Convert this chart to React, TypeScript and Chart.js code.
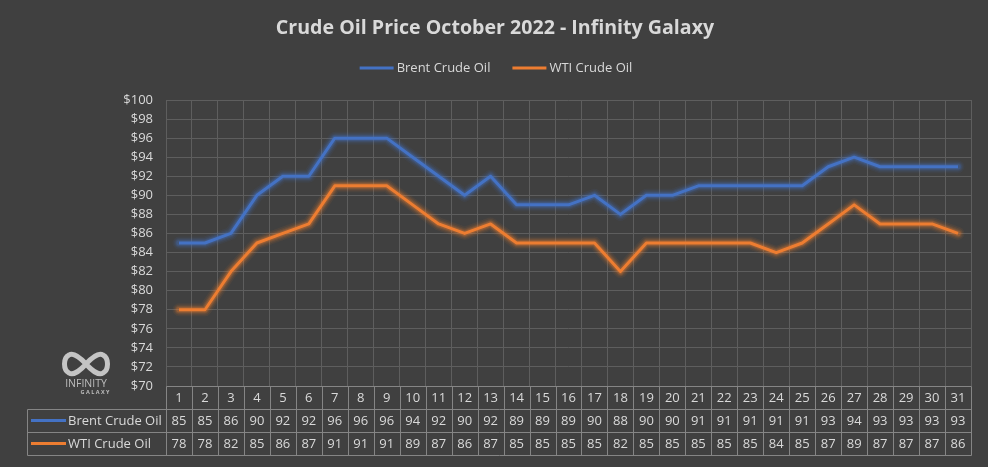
import React, { useEffect, useRef } from "react";
import { Chart, registerables } from "chart.js";

Chart.register(...registerables);

const chartTitle = "Crude Oil Price October 2022 - Infinity Galaxy";
const days = ["1","2","3","4","5","6","7","8","9","10","11","12","13","14","15","16","17","18","19","20","21","22","23","24","25","26","27","28","29","30","31"];
const brentLabel = "Brent Crude Oil";
const wtiLabel = "WTI Crude Oil";
const brent = [85,85,86,90,92,92,96,96,96,94,92,90,92,89,89,89,90,88,90,90,91,91,91,91,91,93,94,93,93,93,93];
const wti = [78,78,82,85,86,87,91,91,91,89,87,86,87,85,85,85,85,82,85,85,85,85,85,84,85,87,89,87,87,87,86];
const yMin = 70;
const yMax = 100;
const yStep = 2;

const BG = "#404040";
const TEXT = "#d9d9d9";
const GRID = "#5e5e5e";
const TABLE_LINE = "#858585";
const BLUE = "#4472C4";
const ORANGE = "#ED7D31";
const GLOW_RGB = ["68,114,196", "237,125,49"];
const FONT = "'Open Sans', 'Noto Sans', sans-serif";

const bgPlugin = {
  id: "bg",
  beforeDraw(chart: any) {
    const { ctx, width, height } = chart;
    ctx.save();
    ctx.fillStyle = BG;
    ctx.fillRect(0, 0, width, height);
    ctx.restore();
  },
};

const glowPlugin = {
  id: "glow",
  beforeDatasetDraw(chart: any, args: any) {
    const ctx = chart.ctx;
    const pts = chart.getDatasetMeta(args.index).data;
    const rgb = GLOW_RGB[args.index];
    const layers = [
      [13, 0.07],
      [10, 0.1],
      [7.5, 0.16],
      [5.5, 0.25],
    ];
    ctx.save();
    ctx.lineJoin = "round";
    ctx.lineCap = "round";
    layers.forEach(([w, a]) => {
      ctx.strokeStyle = `rgba(${rgb},${a})`;
      ctx.lineWidth = w;
      ctx.beginPath();
      pts.forEach((p: any, i: number) => {
        if (i === 0) ctx.moveTo(p.x, p.y);
        else ctx.lineTo(p.x, p.y);
      });
      ctx.stroke();
    });
    ctx.restore();
  },
};

const decorPlugin = {
  id: "decor",
  afterDraw(chart: any) {
    const { ctx, width } = chart;
    const xs = chart.scales.x;
    const area = chart.chartArea;
    ctx.save();
    // Title
    ctx.fillStyle = TEXT;
    ctx.font = `bold 19.6px ${FONT}`;
    ctx.textAlign = "center";
    ctx.textBaseline = "middle";
    ctx.fillText(chartTitle, width / 2 + 1, 28);

    // Legend
    ctx.font = `13px ${FONT}`;
    ctx.textAlign = "left";
    const items = [
      { label: brentLabel, color: BLUE },
      { label: wtiLabel, color: ORANGE },
    ];
    const keyW = 34;
    const gap = 3;
    const itemGap = 22;
    const widths = items.map((it) => keyW + gap + ctx.measureText(it.label).width);
    const total = widths.reduce((a, b) => a + b, 0) + itemGap;
    let lx = width / 2 - total / 2 + 2;
    const ly = 68;
    items.forEach((it, i) => {
      ctx.strokeStyle = it.color;
      ctx.lineWidth = 3;
      ctx.beginPath();
      ctx.moveTo(lx, ly);
      ctx.lineTo(lx + keyW, ly);
      ctx.stroke();
      ctx.fillStyle = TEXT;
      ctx.fillText(it.label, lx + keyW + gap, ly);
      lx += widths[i] + itemGap;
    });

    // Data table
    const n = days.length;
    const cw = (area.right - area.left) / n;
    const rowH = 23;
    const top = area.bottom;
    const tableLeft = 27;
    ctx.strokeStyle = TABLE_LINE;
    ctx.lineWidth = 1;
    const px = (v: number) => Math.round(v) + 0.5;
    ctx.beginPath();
    ctx.moveTo(px(area.left), px(top));
    ctx.lineTo(px(area.right), px(top));
    for (let r = 1; r <= 3; r++) {
      ctx.moveTo(px(tableLeft), px(top + r * rowH));
      ctx.lineTo(px(area.right), px(top + r * rowH));
    }
    for (let i = 0; i <= n; i++) {
      const x = area.left + i * cw;
      ctx.moveTo(px(x), px(top));
      ctx.lineTo(px(x), px(top + 3 * rowH));
    }
    ctx.moveTo(px(tableLeft), px(top + rowH));
    ctx.lineTo(px(tableLeft), px(top + 3 * rowH));
    ctx.stroke();

    ctx.fillStyle = TEXT;
    ctx.font = `13px ${FONT}`;
    ctx.textAlign = "center";
    ctx.textBaseline = "middle";
    const rows = [days.map(String), brent.map(String), wti.map(String)];
    for (let i = 0; i < n; i++) {
      const cx = xs.getPixelForValue(i);
      rows.forEach((row, r) => {
        ctx.fillText(row[i], cx, top + r * rowH + rowH / 2 + 1);
      });
    }
    const heads = [
      { label: brentLabel, color: BLUE },
      { label: wtiLabel, color: ORANGE },
    ];
    heads.forEach((h, r) => {
      const cy = top + (r + 1) * rowH + rowH / 2;
      ctx.strokeStyle = h.color;
      ctx.lineWidth = 3;
      ctx.beginPath();
      ctx.moveTo(31, cy);
      ctx.lineTo(66, cy);
      ctx.stroke();
      ctx.fillStyle = TEXT;
      ctx.textAlign = "left";
      ctx.fillText(h.label, 68, cy + 1);
    });

    // Logo
    ctx.strokeStyle = "#c4c4c4";
    ctx.lineWidth = 5;
    ctx.lineJoin = "round";
    ctx.lineCap = "round";
    ctx.beginPath();
    ctx.moveTo(86, 364);
    ctx.bezierCurveTo(78, 355, 72, 353, 69, 355);
    ctx.bezierCurveTo(63, 358, 63, 370, 69, 373);
    ctx.bezierCurveTo(72, 375, 78, 373, 86, 364);
    ctx.bezierCurveTo(94, 355, 100, 353, 103, 355);
    ctx.bezierCurveTo(109, 358, 109, 370, 103, 373);
    ctx.bezierCurveTo(100, 375, 94, 373, 86, 364);
    ctx.stroke();
    ctx.fillStyle = "#bdbdbd";
    ctx.font = `10.5px ${FONT}`;
    ctx.textAlign = "center";
    ctx.fillText("INFINITY", 86, 384);
    ctx.font = `bold 5.5px ${FONT}`;
    ctx.fillText("G A L A X Y", 95, 392);
    ctx.restore();
  },
};

export default function App() {
  const ref = useRef<HTMLCanvasElement | null>(null);
  useEffect(() => {
    if (!ref.current) return;
    const chart = new Chart(ref.current, {
      type: "line",
      data: {
        labels: days,
        datasets: [
          {
            label: brentLabel,
            data: brent,
            borderColor: BLUE,
            backgroundColor: BLUE,
            borderWidth: 3,
            borderJoinStyle: "round",
            pointRadius: 0,
            tension: 0,
          },
          {
            label: wtiLabel,
            data: wti,
            borderColor: ORANGE,
            backgroundColor: ORANGE,
            borderWidth: 3,
            borderJoinStyle: "round",
            pointRadius: 0,
            tension: 0,
          },
        ],
      },
      options: {
        animation: false,
        responsive: false,
        maintainAspectRatio: false,
        layout: { padding: { top: 100, right: 17, bottom: 81, left: 0 } },
        plugins: {
          legend: { display: false },
          title: { display: false },
          tooltip: { enabled: false },
        },
        scales: {
          x: {
            offset: true,
            ticks: { display: false },
            grid: { offset: true, color: GRID, drawTicks: false },
            border: { display: false },
            afterFit(scale: any) {
              scale.height = 0;
            },
          },
          y: {
            min: yMin,
            max: yMax,
            ticks: {
              stepSize: yStep,
              color: TEXT,
              padding: 13,
              font: { family: FONT, size: 13 },
              callback: (v: any) => "$" + v,
            },
            grid: { color: GRID, drawTicks: false },
            border: { display: false },
            afterFit(scale: any) {
              scale.width = 166;
            },
          },
        },
      },
      plugins: [bgPlugin, glowPlugin, decorPlugin],
    });
    return () => chart.destroy();
  }, []);
  return (
    <div style={{ position: "fixed", left: 0, top: 0, width: 988, height: 467, background: BG }}>
      <canvas ref={ref} width={988} height={467} style={{ display: "block" }} />
    </div>
  );
}
